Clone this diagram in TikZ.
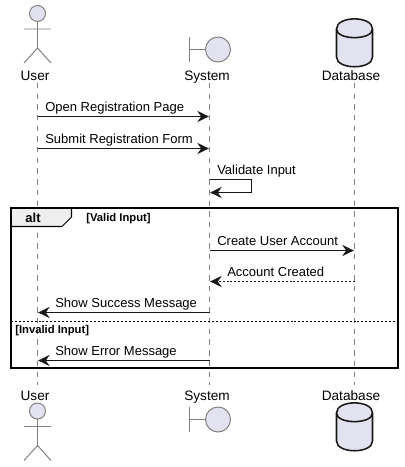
\documentclass[tikz,border=0pt]{standalone}
\usepackage{fontspec}
\setmainfont{Liberation Sans}
\usetikzlibrary{arrows.meta}
\definecolor{partfill}{RGB}{226,226,240}
\definecolor{partline}{RGB}{128,128,128}
\definecolor{msgline}{RGB}{24,24,24}
\definecolor{tabfill}{RGB}{238,238,238}

\tikzset{
    actorpic/.pic={
        \draw[icon] (0,13.5) circle (8);
        \draw[partline, line width=0.7pt] (0,21.5) -- (0,48) (-13.5,29) -- (13.5,29)
            (-13.5,63) -- (0,48) -- (13.5,63);
    },
    boundarypic/.pic={
        \draw[partline, line width=0.7pt] (-20,37) -- (-20,62) (-20,49.5) -- (-3,49.5);
        \draw[icon] (8.5,49.5) circle (12.5);
    },
    databasepic/.pic={
        \draw[dbline, fill=partfill] (-18,29) .. controls (-18,15.5) and (18,15.5) .. (18,29)
            -- (18,57) .. controls (18,70) and (-18,70) .. (-18,57) -- cycle;
        \draw[dbline] (-18,29) .. controls (-18,40.5) and (18,40.5) .. (18,29);
    }
}

\begin{document}
\begin{tikzpicture}[
    x=0.025cm, y=-0.025cm,
    icon/.style={draw=partline, fill=partfill, line width=0.7pt},
    dbline/.style={draw=msgline, line width=1.1pt},
    partlabel/.style={anchor=base, inner sep=0pt, font=\fontsize{9.7}{11}\selectfont},
    msglabel/.style={anchor=base west, inner sep=0pt, text=black, font=\fontsize{9.25}{11}\selectfont},
    guardlabel/.style={anchor=base west, inner sep=0pt, font=\fontsize{8}{9}\selectfont\bfseries},
    lifeline/.style={draw=partline, line width=0.45pt, dash pattern=on 3.8pt off 3.8pt},
    msg/.style={draw=msgline, line width=0.75pt, -{Stealth[length=8.2pt,width=8pt,inset=2.8pt]}, shorten >=0.5pt},
    reply/.style={msg, line width=0.55pt, dash pattern=on 1.4pt off 1.4pt}
]
    \useasboundingbox (0,0) rectangle (404,467);

    % lifelines
    \coordinate (userTop) at (37.5,83);
    \coordinate (userBot) at (37.5,385);
    \coordinate (sysTop) at (209.5,83);
    \coordinate (sysBot) at (209.5,385);
    \coordinate (dbTop) at (354.5,83);
    \coordinate (dbBot) at (354.5,385);
    \draw[lifeline] (userTop) -- (userBot);
    \draw[lifeline] (sysTop) -- (sysBot);
    \draw[lifeline] (dbTop) -- (dbBot);

    % participants, top and bottom
    \pic at (37.5,0) {actorpic};
    \pic at (209.5,0) {boundarypic};
    \pic at (354.5,0) {databasepic};
    \node[partlabel] (userHead) at (35,80) {User};
    \node[partlabel] (sysHead) at (207,80) {System};
    \node[partlabel] (dbHead) at (351,80) {Database};
    \pic at (37.5,397.5) {actorpic};
    \pic at (209.5,370) {boundarypic};
    \pic at (354.5,384) {databasepic};
    \node[partlabel] (userFoot) at (35,400) {User};
    \node[partlabel] (sysFoot) at (207,400) {System};
    \node[partlabel] (dbFoot) at (351,400) {Database};

    % one row of points for each message
    \foreach \row/\ypos in {1/116.5,2/148.5,3/192.5,4/250.5,5/281.5,6/312.5,7/360.5} {
        \coordinate (u\row) at (37.5,\ypos);
        \coordinate (s\row) at (209.5,\ypos);
        \coordinate (d\row) at (354.5,\ypos);
    }
    \coordinate (loopA) at (209.5,179.5);
    \coordinate (loopB) at (251.5,179.5);
    \coordinate (loopC) at (251.5,192.5);

    % alt frame
    \draw[draw=black, line width=0.75pt, fill=tabfill] (11,208) -- (71.5,208) -- (71.5,217)
        -- (62,226.5) -- (11,226.5) -- cycle;
    \draw[draw=black, line width=1.42pt] (11,208) rectangle (398,368);
    \node[anchor=base, inner sep=0pt, font=\fontsize{9.25}{11}\selectfont\bfseries] (altTag) at (33,222.7) {alt};
    \node[guardlabel] (validGuard) at (86,221.7) {[Valid Input]};
    \coordinate (splitL) at (11,321.5);
    \coordinate (splitR) at (398,321.5);
    \draw[draw=black, line width=0.55pt, dash pattern=on 1.4pt off 1.4pt] (splitL) -- (splitR);
    \node[guardlabel] (invalidGuard) at (15,333.3) {[Invalid Input]};

    % messages
    \draw[msg] (u1) -- (s1);
    \node[msglabel] (openMsg) at (45,111.5) {Open Registration Page};
    \draw[msg] (u2) -- (s2);
    \node[msglabel] (submitMsg) at (45,143.5) {Submit Registration Form};
    \draw[msg] (loopA) -- (loopB) -- (loopC) -- (s3);
    \node[msglabel] (validateMsg) at (217,174.3) {Validate Input};
    \draw[msg] (s4) -- (d4);
    \node[msglabel] (createMsg) at (217,245) {Create User Account};
    \draw[reply] (d5) -- (s5);
    \node[msglabel] (createdMsg) at (227,276) {Account Created};
    \draw[msg] (s6) -- (u6);
    \node[msglabel] (successMsg) at (55,307.3) {Show Success Message};
    \draw[msg] (s7) -- (u7);
    \node[msglabel] (errorMsg) at (55,355.3) {Show Error Message};
\end{tikzpicture}
\end{document}
